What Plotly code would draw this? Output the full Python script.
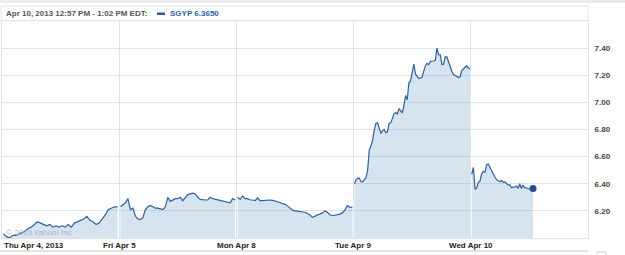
import numpy as np
import plotly.graph_objects as go

# ---------------- data ----------------
ticker = "SGYP"
last_price = 6.3650
header_time = "Apr 10, 2013 12:57 PM - 1:02 PM EDT:"
watermark = "\u00a9 2013 Yahoo! Inc."

day_labels = ["Thu Apr 4, 2013", "Fri Apr 5", "Mon Apr 8", "Tue Apr 9", "Wed Apr 10"]
y_ticks = [6.20, 6.40, 6.60, 6.80, 7.00, 7.20, 7.40]
y_range = [6.0, 7.6]
session_minutes = 390          # 9:30 - 16:00
last_day_first_minute = 3
last_day_last_minute = 207     # 12:57 PM

prices_apr4 = [6.03, 6.01, 6.00, 6.02, 6.02, 6.03, 6.04, 6.05, 6.07, 6.08,
               6.10, 6.12, 6.11, 6.10, 6.09, 6.10, 6.08, 6.09, 6.08, 6.09,
               6.08, 6.10, 6.08, 6.11, 6.12, 6.13, 6.14, 6.16, 6.13, 6.12,
               6.10, 6.11, 6.14, 6.17, 6.21, 6.22, 6.23, 6.23]

prices_apr5 = [6.23, 6.245, 6.26, 6.29, 6.21, 6.22, 6.16, 6.14, 6.135, 6.15,
               6.21, 6.23, 6.24, 6.23, 6.22, 6.22, 6.215, 6.21, 6.23, 6.30,
               6.27, 6.28, 6.29, 6.29, 6.30, 6.275, 6.30, 6.32, 6.325, 6.33,
               6.325, 6.30, 6.285, 6.28, 6.28, 6.28, 6.30, 6.29, 6.285, 6.28,
               6.28, 6.27, 6.265, 6.26, 6.26, 6.29, 6.28]

prices_apr8 = [6.30, 6.285, 6.31, 6.29, 6.29, 6.28, 6.28, 6.275, 6.295, 6.275,
               6.275, 6.278, 6.28, 6.28, 6.277, 6.272, 6.27, 6.262, 6.253, 6.248,
               6.235, 6.22, 6.205, 6.20, 6.198, 6.196, 6.196, 6.19, 6.18, 6.171,
               6.152, 6.16, 6.166, 6.176, 6.185, 6.20, 6.19, 6.171, 6.166, 6.168,
               6.171, 6.176, 6.185, 6.205, 6.24, 6.225, 6.228]

prices_apr9 = [6.40, 6.429, 6.441, 6.44, 6.415, 6.415, 6.428, 6.445, 6.50, 6.649,
               6.678, 6.722, 6.795, 6.844, 6.849, 6.807, 6.771, 6.79, 6.80, 6.776,
               6.783, 6.844, 6.849, 6.88, 6.915, 6.925, 6.915, 6.954, 6.941, 6.922,
               6.978, 7.051, 7.02, 7.145, 7.157, 7.22, 7.283, 7.21, 7.19, 7.176,
               7.18, 7.185, 7.23, 7.27, 7.288, 7.278, 7.302, 7.302, 7.305, 7.31,
               7.40, 7.351, 7.35, 7.28, 7.28, 7.335, 7.335, 7.30, 7.26, 7.23,
               7.205, 7.197, 7.193, 7.185, 7.188, 7.234, 7.246, 7.259, 7.27, 7.254,
               7.246]

prices_apr10 = [6.47, 6.52, 6.36, 6.37, 6.41, 6.42, 6.473, 6.49, 6.485, 6.54,
                6.545, 6.52, 6.49, 6.47, 6.45, 6.43, 6.425, 6.415, 6.425, 6.41,
                6.415, 6.40, 6.39, 6.393, 6.37, 6.375, 6.375, 6.385, 6.365, 6.40,
                6.365, 6.39, 6.37, 6.37, 6.363, 6.363, 6.362, 6.365]

# ---------------- layout geometry ----------------
W, H = 625, 255
ML, MR, MT, MB = 2, 37, 21, 17
PW, PH = W - ML - MR, H - MT - MB


def xp(px):
    return (px - ML) / PW


def yp(py):
    return (H - MB - py) / PH


LINE = "#2f609b"
FILL = "rgba(118,165,205,0.30)"
GRID = "#dde3ea"
FONT = "Liberation Sans"

fig = go.Figure()

day_prices = [prices_apr4, prices_apr5, prices_apr8, prices_apr9, prices_apr10]
for d, prices in enumerate(day_prices):
    n = len(prices)
    if d < len(day_prices) - 1:
        minutes = (np.arange(n) + 0.5) * session_minutes / n
    else:
        minutes = np.linspace(last_day_first_minute, last_day_last_minute, n)
    x = d + minutes / session_minutes
    fig.add_trace(go.Scatter(
        x=x, y=prices, mode="lines",
        line=dict(color=LINE, width=1.2),
        fill="tozeroy", fillcolor=FILL,
        hoverinfo="skip", showlegend=False))
    if d == len(day_prices) - 1:
        fig.add_trace(go.Scatter(
            x=[x[-1]], y=[prices[-1]], mode="markers",
            marker=dict(color="#1f4f8c", size=7),
            hoverinfo="skip", showlegend=False))

fig.update_xaxes(
    range=[0, len(day_labels)], tickvals=list(range(1, len(day_labels))),
    showticklabels=False, showgrid=True, gridcolor=GRID, gridwidth=1.3,
    zeroline=False, showline=True, mirror=True, linecolor=GRID, ticks="")
fig.update_yaxes(
    range=y_range, side="right", tickvals=y_ticks,
    ticktext=[f"{v:.2f}" for v in y_ticks],
    tickfont=dict(family=FONT, size=8, color="#444444", weight="bold"),
    ticklabelstandoff=4,
    showgrid=True, gridcolor=GRID, zeroline=False,
    showline=True, mirror=True, linecolor=GRID, ticks="")

annotations = []
for i, lab in enumerate(day_labels):
    annotations.append(dict(
        x=i, xref="x", y=yp(245.5), yref="paper",
        xanchor="left" if i == 0 else "center", yanchor="middle",
        xshift=0 if i == 0 else 0,
        text=f"<b>{lab}</b>", showarrow=False,
        font=dict(family=FONT, size=8, color="#222222")))

annotations.append(dict(
    x=xp(4), xref="paper", y=yp(13.6), yref="paper",
    xanchor="left", yanchor="middle", showarrow=False,
    text=f"<b>{header_time}</b>",
    font=dict(family=FONT, size=8, color="#555555")))
annotations.append(dict(
    x=xp(168), xref="paper", y=yp(13.6), yref="paper",
    xanchor="left", yanchor="middle", showarrow=False,
    text=f"<b>{ticker} {last_price:.4f}</b>",
    font=dict(family=FONT, size=8, color="#2f5f9f")))
annotations.append(dict(
    x=xp(4), xref="paper", y=yp(232), yref="paper",
    xanchor="left", yanchor="middle", showarrow=False,
    text=watermark,
    font=dict(family=FONT, size=8, color="#a8b6c4")))

shapes = [
    # top page rule
    dict(type="line", xref="paper", yref="paper", x0=xp(0), x1=xp(625),
         y0=yp(1.5), y1=yp(1.5), line=dict(color="#e4e4e4", width=2)),
    # header box
    dict(type="rect", xref="paper", yref="paper", x0=xp(1), x1=xp(588),
         y0=yp(20.7), y1=yp(6), line=dict(color=GRID, width=1)),
    # legend swatch
    dict(type="rect", xref="paper", yref="paper", x0=xp(157), x1=xp(165),
         y0=yp(15), y1=yp(12.5), fillcolor="#2a5b98", line=dict(width=0)),
    # bottom rule
    dict(type="line", xref="paper", yref="paper", x0=xp(0), x1=xp(588),
         y0=yp(251), y1=yp(251), line=dict(color="#e2e2e2", width=2)),
    dict(type="rect", xref="paper", yref="paper", x0=xp(597), x1=xp(606),
         y0=yp(256), y1=yp(252), line=dict(color="#d0d0d0", width=1),
         fillcolor="white"),
]

fig.update_layout(
    width=W, height=H, margin=dict(l=ML, r=MR, t=MT, b=MB),
    paper_bgcolor="white", plot_bgcolor="white",
    showlegend=False, annotations=annotations, shapes=shapes,
    font=dict(family=FONT))

fig.write_html("out.html")
